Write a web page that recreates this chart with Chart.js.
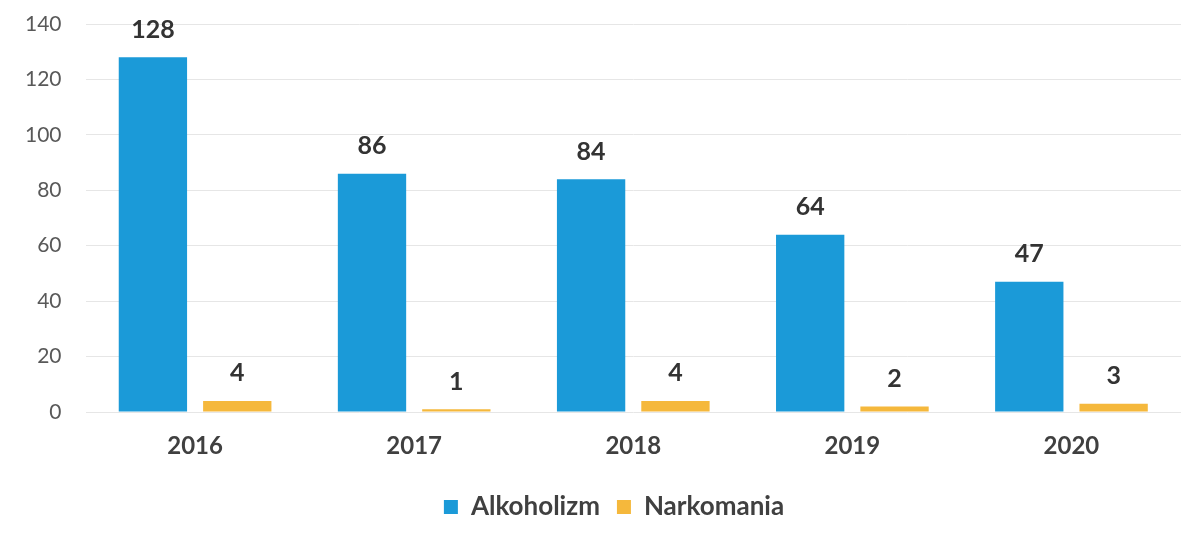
<!DOCTYPE html>
<html>
<head>
<meta charset="utf-8">
<script src="https://cdn.jsdelivr.net/npm/chart.js@4"></script>
<style>
  html, body { margin: 0; padding: 0; background: #fff; }
  #wrap { width: 1198px; height: 540px; }
</style>
</head>
<body>
<div id="wrap"><canvas id="barChart"></canvas></div>
<script>
const years = ['2016', '2017', '2018', '2019', '2020'];
const alkoholizm = [128, 86, 84, 64, 47];
const narkomania = [4, 1, 4, 2, 3];
const yTicks = [0, 20, 40, 60, 80, 100, 120, 140];

const FONT = "Lato, 'Open Sans', sans-serif";

// draws the value above each bar
const valueLabels = {
    id: 'valueLabels',
    afterDatasetsDraw(chart) {
        const ctx = chart.ctx;
        ctx.save();
        ctx.font = 'bold 25px ' + FONT;
        ctx.fillStyle = '#333333';
        ctx.textAlign = 'center';
        ctx.textBaseline = 'bottom';
        chart.data.datasets.forEach((ds, i) => {
            chart.getDatasetMeta(i).data.forEach((bar, j) => {
                ctx.fillText(ds.data[j], bar.x, bar.y - 15);
            });
        });
        ctx.restore();
    }
};

// legend in the original sits a bit right of centre
const legendShift = {
    id: 'legendShift',
    afterLayout(chart) {
        chart.legend.left += 15;
        chart.legend.right += 15;
    }
};

new Chart(document.getElementById('barChart'), {
    type: 'bar',
    data: {
        labels: years,
        datasets: [
            {
                label: 'Alkoholizm',
                data: alkoholizm,
                backgroundColor: '#1b9ad8',
                categoryPercentage: 0.77,
                barPercentage: 0.81
            },
            {
                label: 'Narkomania',
                data: narkomania,
                backgroundColor: '#f5b83c',
                categoryPercentage: 0.77,
                barPercentage: 0.81
            }
        ]
    },
    options: {
        responsive: true,
        maintainAspectRatio: false,
        animation: false,
        layout: { padding: { left: 17, right: 17, top: 24, bottom: 10 } },
        scales: {
            x: {
                grid: { display: false },
                border: { display: false },
                afterFit: axis => { axis.height = 65; },
                ticks: {
                    color: '#404040',
                    padding: 12,
                    font: { size: 24, weight: 'bold', family: FONT }
                }
            },
            y: {
                min: 0,
                max: 140,
                afterBuildTicks: axis => { axis.ticks = yTicks.map(v => ({ value: v })); },
                // transparent tick marks keep the labels away from the plot
                grid: { color: '#e6e6e6', drawTicks: true, tickLength: 16, tickColor: 'rgba(0,0,0,0)' },
                border: { display: false },
                ticks: {
                    color: '#595959',
                    padding: 8,
                    font: { size: 21, family: FONT }
                }
            }
        },
        plugins: {
            legend: {
                position: 'bottom',
                labels: {
                    color: '#404040',
                    boxWidth: 14,
                    boxHeight: 14,
                    padding: 17,
                    font: { size: 26, weight: 'bold', family: FONT }
                }
            },
            tooltip: { enabled: false }
        }
    },
    plugins: [valueLabels, legendShift]
});
</script>
</body>
</html>
